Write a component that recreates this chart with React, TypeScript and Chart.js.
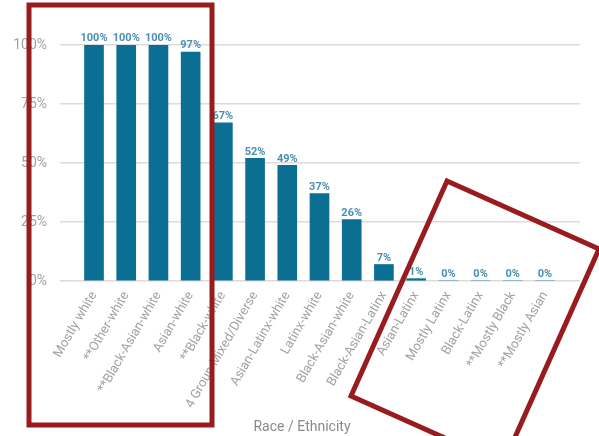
import React, { useEffect, useRef } from "react";
import { Chart, registerables } from "chart.js";

Chart.register(...registerables);

const categories = [
  "Mostly white",
  "**Other-white",
  "**Black-Asian-white",
  "Asian-white",
  "**Black-white",
  "4 Group Mixed/Diverse",
  "Asian-Latinx-white",
  "Latinx-white",
  "Black-Asian-white",
  "Black-Asian-Latinx",
  "Asian-Latinx",
  "Mostly Latinx",
  "Black-Latinx",
  "**Mostly Black",
  "**Mostly Asian",
];
const values = [100, 100, 100, 97, 67, 52, 49, 37, 26, 7, 1, 0, 0, 0, 0];
const yTicks = [0, 25, 50, 75, 100];
const xTitle = "Race / Ethnicity";

const FONT = "Roboto, 'Noto Sans', sans-serif";

const dataLabelPlugin = {
  id: "dataLabels",
  afterDatasetsDraw(chart: any) {
    const ctx = chart.ctx;
    const meta = chart.getDatasetMeta(0);
    ctx.save();
    ctx.font = `bold 11px ${FONT}`;
    ctx.fillStyle = "#4a8fb3";
    ctx.textAlign = "center";
    ctx.textBaseline = "bottom";
    meta.data.forEach((el: any, i: number) => {
      ctx.fillText(values[i] + "%", el.x, el.y - 1);
    });
    ctx.restore();
  },
};

const xTitlePlugin = {
  id: "xTitle",
  afterDraw(chart: any) {
    const ctx = chart.ctx;
    ctx.save();
    ctx.font = `14px ${FONT}`;
    ctx.fillStyle = "#8a8a8a";
    ctx.textAlign = "center";
    ctx.textBaseline = "middle";
    ctx.fillText(xTitle, 302, 427);
    ctx.restore();
  },
};

const boxesPlugin = {
  id: "redBoxes",
  afterDraw(chart: any) {
    const ctx = chart.ctx;
    ctx.save();
    ctx.strokeStyle = "#981b1e";
    ctx.lineWidth = 5;
    ctx.lineJoin = "miter";
    ctx.strokeRect(29, 5, 183, 420);
    ctx.beginPath();
    ctx.moveTo(447, 181);
    ctx.lineTo(599, 249);
    ctx.lineTo(503, 464);
    ctx.lineTo(351, 396);
    ctx.closePath();
    ctx.stroke();
    ctx.restore();
  },
};

export default function App() {
  const ref = useRef<HTMLCanvasElement>(null);
  useEffect(() => {
    document.body.style.margin = "0";
    const chart = new Chart(ref.current!, {
      type: "bar",
      data: {
        datasets: [
          {
            data: values.map((v, i) => ({ x: i, y: v })),
            backgroundColor: "#0b6f93",
            barThickness: 19,
          },
        ],
      },
      options: {
        animation: false,
        responsive: false,
        maintainAspectRatio: false,
        layout: { padding: { top: 45, right: 19, left: 0, bottom: 0 } },
        plugins: { legend: { display: false }, tooltip: { enabled: false } },
        scales: {
          x: {
            type: "linear",
            offset: false,
            min: -1.056,
            max: 15.087,
            afterBuildTicks: (axis: any) => {
              axis.ticks = categories.map((_, i) => ({ value: i }));
            },
            afterFit: (axis: any) => {
              axis.height = 155;
            },
            grid: { display: false, drawTicks: false, offset: false },
            border: { display: false },
            ticks: {
              autoSkip: false,
              minRotation: 60,
              maxRotation: 60,
              padding: 8,
              color: "#a2a2a2",
              font: { family: FONT, size: 13 },
              callback: (v: any) => categories[v as number] ?? "",
            },
          },
          y: {
            min: 0,
            max: 100,
            afterBuildTicks: (axis: any) => {
              axis.ticks = yTicks.map((v) => ({ value: v }));
            },
            afterFit: (axis: any) => {
              axis.width = 60;
            },
            grid: { color: "#dcdcdc", lineWidth: 1.5, drawTicks: false },
            border: { display: false },
            ticks: {
              padding: 13,
              color: "#a2a2a2",
              font: { family: FONT, size: 14 },
              callback: (v: any) => v + "%",
            },
          },
        },
      },
      plugins: [dataLabelPlugin, xTitlePlugin, boxesPlugin],
    });
    return () => chart.destroy();
  }, []);
  return (
    <div style={{ width: 599, height: 436 }}>
      <canvas ref={ref} width={599} height={436} style={{ width: 599, height: 436, display: "block" }} />
    </div>
  );
}
